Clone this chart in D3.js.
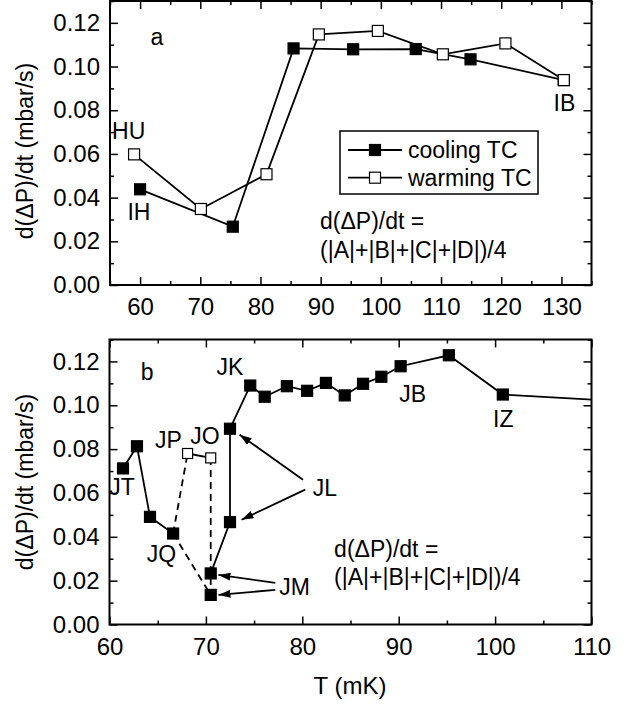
<!DOCTYPE html>
<html><head><meta charset="utf-8">
<script src="https://cdn.jsdelivr.net/npm/d3@7/dist/d3.min.js"></script>
<style>
body{margin:0;background:#fff;}
svg text{font-family:"Liberation Sans",Arial,Helvetica,sans-serif;font-size:23px;fill:#000;}
</style></head>
<body><svg id="c" width="639" height="704"></svg>
<script>
// ---------- Panel a data ----------
const tempCoolA = [60.0, 75.4, 85.5, 95.4, 105.8, 114.9, 130.4];
const rateCoolA = [0.0438, 0.0267, 0.1083, 0.1079, 0.1080, 0.1033, 0.0938];
const tempWarmA = [59.0, 70.1, 81.0, 89.7, 99.5, 110.3, 120.7, 130.4];
const rateWarmA = [0.0598, 0.0348, 0.0507, 0.1147, 0.1163, 0.1056, 0.1106, 0.0938];
const labelsA = [
  {t:"a", T:62.8, v:0.1099},
  {t:"HU", T:58.1, v:0.0668},
  {t:"IH", T:59.8, v:0.0298},
  {t:"IB", T:130.5, v:0.0797}
];
// ---------- Panel b data ----------
// filled points: 0 JT,1,2,3 JQ,4 JM(lower),5 JM(upper),6 JL(lower),7 JL(upper),8 JK,...
const tempB = [61.4, 62.85, 64.2, 66.6, 70.5, 70.5, 72.5, 72.5, 74.6, 76.1, 78.4, 80.5, 82.45, 84.4, 86.3, 88.2, 90.2, 95.2, 100.8, 115.0];
const rateB = [0.0712, 0.0813, 0.0491, 0.0415, 0.0135, 0.0233, 0.0467, 0.0893, 0.1090, 0.1039, 0.1087, 0.1066, 0.1102, 0.1045, 0.1098, 0.1130, 0.1178, 0.1228, 0.1049, 0.1013];
const solidChainsB = [[0,1,2,3],[5,6,7,8,9,10,11,12,13,14,15,16,17,18,19]];
// open points: JP, JO
const tempOpenB = [68.1, 70.5];
const rateOpenB = [0.0780, 0.0760];
const labelsB = [
  {t:"b", T:63.9, v:0.1117},
  {t:"JK", T:72.5, v:0.1140},
  {t:"JT", T:61.3, v:0.0592},
  {t:"JP", T:66.1, v:0.0806},
  {t:"JO", T:69.9, v:0.0824},
  {t:"JQ", T:65.4, v:0.0286},
  {t:"JL", T:82.35, v:0.0587},
  {t:"JM", T:79.2, v:0.0135},
  {t:"JB", T:91.45, v:0.1017},
  {t:"IZ", T:100.85, v:0.0902}
];
const arrowsB = [
  {T0:80.07, v0:0.0660, T1:73.5, v1:0.0866},
  {T0:80.3, v0:0.0615, T1:73.7, v1:0.0478},
  {T0:77.2, v0:0.0190, T1:71.3, v1:0.0226},
  {T0:77.2, v0:0.0158, T1:71.3, v1:0.0135}
];
const formula = ["d(\u0394P)/dt =", "(|A|+|B|+|C|+|D|)/4"];
const legendNames = ["cooling TC", "warming TC"];
const yTitle = "d(\u0394P)/dt (mbar/s)";
const xTitle = "T (mK)";
const xTicksA = [60,70,80,90,100,110,120,130];
const xMinorA = [55,65,75,85,95,105,115,125,135];
const xTicksB = [60,70,80,90,100,110];
const xMinorB = [65,75,85,95,105];
const yTicks = [0,0.02,0.04,0.06,0.08,0.10,0.12];
const yMinor = [0.01,0.03,0.05,0.07,0.09,0.11,0.13];

const svg = d3.select("#c");
const defs = svg.append("defs");
defs.append("marker").attr("id","ah").attr("viewBox","0 0 12 8").attr("refX",12).attr("refY",4)
  .attr("markerWidth",12).attr("markerHeight",8).attr("markerUnits","userSpaceOnUse").attr("orient","auto")
  .append("path").attr("d","M0,0L12,4L0,8Z").attr("fill","#000");

function panel(id, x, y, xt, xm){
  const [x0,x1] = x.range(), [y0,y1] = y.range();
  defs.append("clipPath").attr("id","clip"+id).append("rect")
    .attr("x",x0).attr("y",y1).attr("width",x1-x0).attr("height",y0-y1);
  const g = svg.append("g");
  const fmtY = d3.format(".2f");
  const addAx = (ax, tr) => {
    const a = g.append("g").attr("transform",tr).call(ax);
    a.select(".domain").remove();
    a.selectAll("line").attr("stroke","#000").attr("stroke-width",1.5);
    a.selectAll("text").style("font-size","24px");
    return a;
  };
  addAx(d3.axisBottom(x).tickValues(xt).tickSize(-8).tickPadding(13).tickFormat(d3.format("d")), `translate(0,${y0})`);
  addAx(d3.axisBottom(x).tickValues(xm).tickSize(-4).tickFormat(""), `translate(0,${y0})`);
  addAx(d3.axisTop(x).tickValues(xt).tickSize(-8).tickFormat(""), `translate(0,${y1})`);
  addAx(d3.axisTop(x).tickValues(xm).tickSize(-4).tickFormat(""), `translate(0,${y1})`);
  addAx(d3.axisLeft(y).tickValues(yTicks).tickSize(-8).tickPadding(10).tickFormat(fmtY), `translate(${x0},0)`);
  addAx(d3.axisLeft(y).tickValues(yMinor).tickSize(-4).tickFormat(""), `translate(${x0},0)`);
  addAx(d3.axisRight(y).tickValues(yTicks).tickSize(-8).tickFormat(""), `translate(${x1},0)`);
  addAx(d3.axisRight(y).tickValues(yMinor).tickSize(-4).tickFormat(""), `translate(${x1},0)`);
  g.append("rect").attr("x",x0).attr("y",y1).attr("width",x1-x0).attr("height",y0-y1)
    .attr("fill","none").attr("stroke","#000").attr("stroke-width",2);
  svg.append("text").attr("transform",`translate(33,${id==="a"?151:482}) rotate(-90)`)
    .attr("text-anchor","middle").text(yTitle);
  return svg.append("g").attr("clip-path",`url(#clip${id})`);
}

function squares(g, pts, x, y, size, filled){
  g.selectAll(null).data(pts).join("rect")
    .attr("x",d=>x(d[0])-size/2).attr("y",d=>y(d[1])-size/2)
    .attr("width",size).attr("height",size)
    .attr("fill",filled?"#000":"#fff").attr("stroke","#000").attr("stroke-width",1.2);
}
function line(g, pts, x, y, dash){
  g.append("path").datum(pts).attr("d",d3.line().x(d=>x(d[0])).y(d=>y(d[1])))
    .attr("fill","none").attr("stroke","#000").attr("stroke-width",1.8)
    .attr("stroke-dasharray",dash?"7,5":null);
}
function texts(g, labs, x, y){
  g.selectAll(null).data(labs).join("text").attr("x",d=>x(d.T)).attr("y",d=>y(d.v))
    .attr("text-anchor","middle").text(d=>d.t);
}

// ---------- Panel a ----------
const xA = d3.scaleLinear([55,135],[110,591.5]);
const yA = d3.scaleLinear([0,0.13],[285,1]);
const gA = panel("a", xA, yA, xTicksA, xMinorA);
const coolA = tempCoolA.map((t,i)=>[t,rateCoolA[i]]);
const warmA = tempWarmA.map((t,i)=>[t,rateWarmA[i]]);
line(gA, coolA, xA, yA, false);
line(gA, warmA, xA, yA, false);
squares(gA, coolA, xA, yA, 11, true);
squares(gA, warmA, xA, yA, 11, false);
texts(svg.append("g"), labelsA, xA, yA);
svg.append("g").selectAll(null).data(formula).join("text")
  .attr("x",xA(89.9)).attr("y",(d,i)=>yA(0.0255)+i*29).text(d=>d);

// legend
const leg = svg.append("g");
leg.append("rect").attr("x",340).attr("y",131).attr("width",198).attr("height",63)
  .attr("fill","#fff").attr("stroke","#000").attr("stroke-width",1.5);
legendNames.forEach((n,i)=>{
  const yy = 150 + i*27.7;
  leg.append("line").attr("x1",348).attr("x2",402).attr("y1",yy).attr("y2",yy)
    .attr("stroke","#000").attr("stroke-width",1.8);
  leg.append("rect").attr("x",375-5.5).attr("y",yy-5.5).attr("width",11).attr("height",11)
    .attr("fill",i===0?"#000":"#fff").attr("stroke","#000").attr("stroke-width",1.2);
  leg.append("text").attr("x",408).attr("y",yy+8).text(n);
});

// ---------- Panel b ----------
const xB = d3.scaleLinear([60,110],[109.5,591.5]);
const yB = d3.scaleLinear([0,0.13],[624.5,339.5]);
const gB = panel("b", xB, yB, xTicksB, xMinorB);
const ptsB = tempB.map((t,i)=>[t,rateB[i]]);
const openB = tempOpenB.map((t,i)=>[t,rateOpenB[i]]);
solidChainsB.forEach(ch=>line(gB, ch.map(i=>ptsB[i]), xB, yB, false));
line(gB, [ptsB[3], openB[0]], xB, yB, true);
line(gB, [openB[0], openB[1]], xB, yB, false);
line(gB, [openB[1], ptsB[4]], xB, yB, true);
line(gB, [ptsB[3], ptsB[4]], xB, yB, true);
squares(gB, ptsB, xB, yB, 11, true);
squares(gB, openB, xB, yB, 10, false);
svg.append("g").selectAll(null).data(arrowsB).join("line")
  .attr("x1",d=>xB(d.T0)).attr("y1",d=>yB(d.v0)).attr("x2",d=>xB(d.T1)).attr("y2",d=>yB(d.v1))
  .attr("stroke","#000").attr("stroke-width",1.8).attr("marker-end","url(#ah)");
texts(svg.append("g"), labelsB, xB, yB);
svg.append("g").selectAll(null).data(formula).join("text")
  .attr("x",xB(83.3)).attr("y",(d,i)=>yB(0.0308)+i*28).text(d=>d);

svg.append("text").attr("x",350).attr("y",694).attr("text-anchor","middle").style("font-size","24px").text(xTitle);
</script></body></html>
